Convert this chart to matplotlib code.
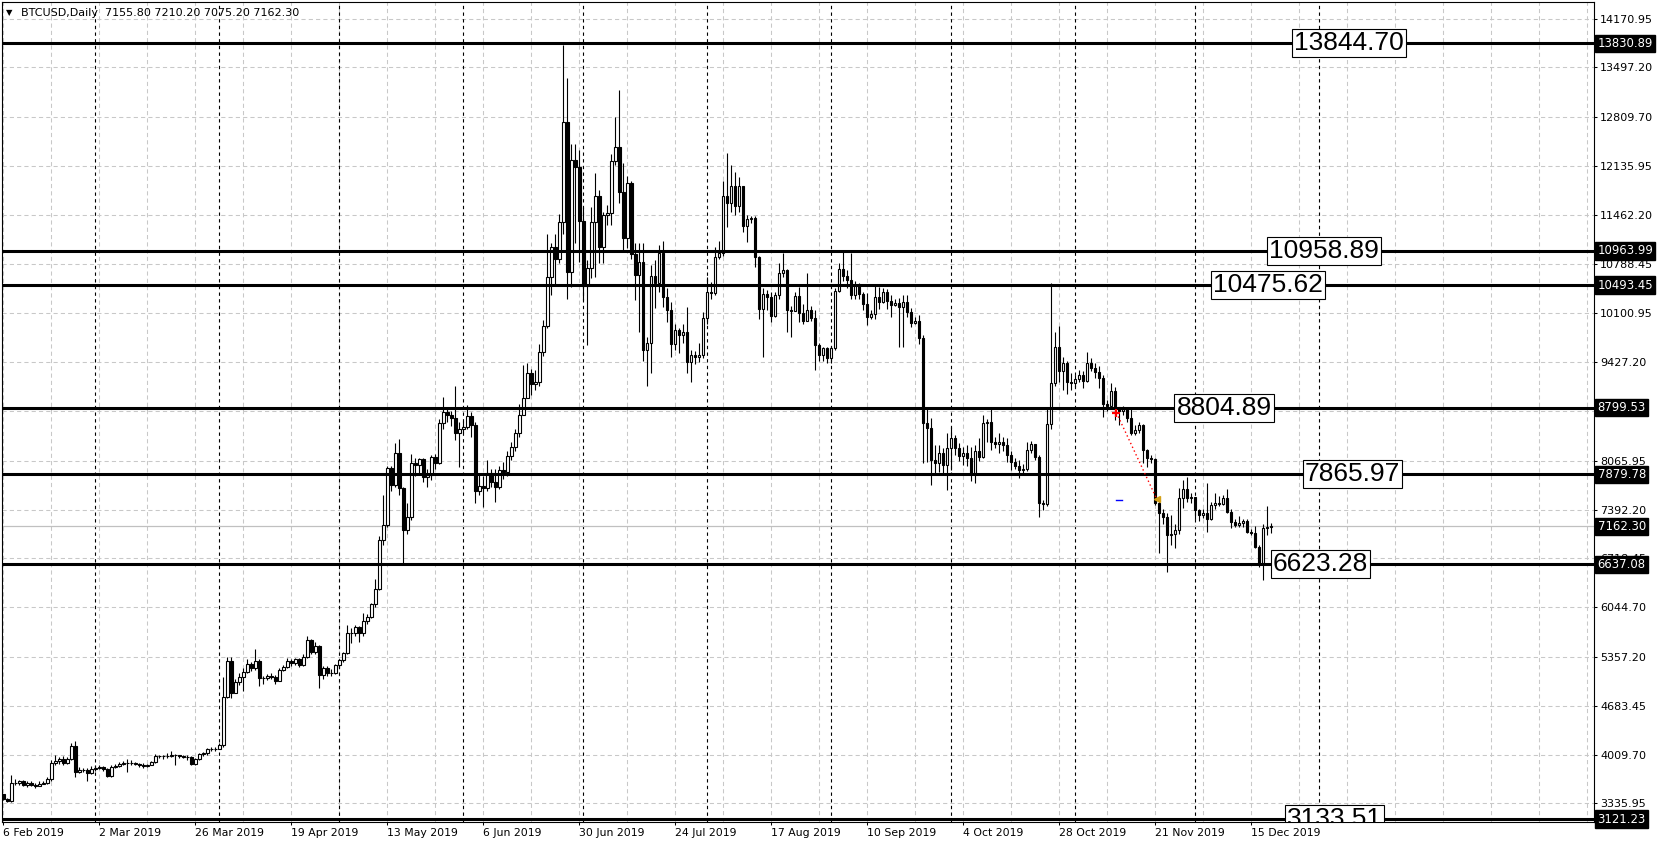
import numpy as np
import pandas as pd
import matplotlib
matplotlib.use("Agg")
import matplotlib.pyplot as plt
import matplotlib.transforms as mtransforms

# BTCUSD daily bars, 6 Feb 2019 .. 20 Dec 2019 (bar open = previous close)
first_open = 3468
feb_close = [3404, 3376, 3625, 3623, 3651, 3593, 3617, 3597, 3580, 3603, 3618, 3667, 3899, 3920, 3948, 3893,
             3956, 4135, 3771, 3800, 3800, 3755, 3810]
feb_high = [3470, 3410, 3735, 3680, 3665, 3660, 3640, 3650, 3620, 3640, 3650, 3700, 3930, 4000, 3980, 3990,
            3975, 4170, 4200, 3840, 3830, 3820, 3850]
feb_low = [3390, 3350, 3360, 3590, 3590, 3575, 3565, 3580, 3550, 3570, 3600, 3610, 3650, 3860, 3880, 3860,
           3885, 3930, 3700, 3760, 3770, 3650, 3745]

mar_close = [3828, 3840, 3810, 3715, 3835, 3853, 3876, 3890, 3899, 3899, 3881, 3867, 3858, 3867, 3908, 3996,
             3996, 3990, 3996, 4010, 4005, 3990, 3981, 3973, 3881, 3945, 4014, 4028, 4083, 4083, 4092]
mar_high = [3860, 3870, 3850, 3820, 3870, 3880, 3915, 3920, 3950, 3940, 3915, 3900, 3890, 3880, 3920, 4020,
            4010, 4010, 4030, 4060, 4020, 4010, 4000, 4000, 3985, 3960, 4030, 4050, 4100, 4110, 4110]
mar_low = [3790, 3810, 3785, 3700, 3705, 3820, 3840, 3860, 3775, 3870, 3860, 3840, 3830, 3840, 3860, 3900,
           3960, 3950, 3960, 3980, 3870, 3960, 3960, 3940, 3860, 3870, 3930, 3990, 4010, 4060, 4060]

apr_close = [4138, 4805, 5305, 4857, 5018, 5087, 5156, 5262, 5202, 5308, 5064, 5064, 5096, 5087, 5031, 5179,
             5225, 5308, 5271, 5326, 5248, 5363, 5593, 5432, 5510, 5110, 5202, 5133, 5140, 5243]
apr_high = [4170, 5087, 5353, 5363, 5060, 5140, 5200, 5330, 5290, 5473, 5330, 5100, 5130, 5140, 5110, 5200,
            5250, 5340, 5330, 5350, 5345, 5400, 5648, 5610, 5560, 5530, 5230, 5230, 5190, 5260]
apr_low = [4090, 4120, 4785, 4787, 4930, 4970, 4893, 5140, 5170, 5180, 4962, 4990, 5040, 5050, 4990, 5020,
           5160, 5200, 5230, 5250, 5220, 5230, 5340, 5400, 5400, 4926, 5060, 5100, 5090, 5120]

may_close = [5317, 5409, 5694, 5694, 5768, 5694, 5860, 5906, 6085, 6292, 6973, 7181, 7963, 7733, 8170, 7687,
             7111, 7286, 8032, 8009, 8087, 7848, 7871, 8115, 8041, 8584, 8745, 8699, 8653, 8455, 8501]
may_high = [5330, 5430, 5800, 5760, 5800, 5790, 5970, 5950, 6100, 6430, 7029, 7595, 8000, 8000, 8308, 8363,
            7700, 7489, 8161, 8100, 8110, 8100, 7950, 8150, 8160, 8650, 8952, 8800, 8750, 9100, 8600]
may_low = [5200, 5290, 5400, 5547, 5650, 5570, 5650, 5820, 5890, 6050, 6280, 6900, 7150, 7650, 7700, 7600,
           6651, 7050, 7250, 7850, 7900, 7780, 7700, 7800, 7950, 8020, 8500, 8600, 8550, 8350, 7986]

jun_close = [8538, 8685, 8561, 7655, 7724, 7687, 7894, 7779, 7710, 7940, 7910, 8133, 8262, 8455, 8700, 8929,
             9274, 9127, 9160, 9573, 9928, 10609, 11023, 10848, 11368, 12740, 10678, 12220, 12128, 11382]
jun_high = [8620, 8837, 8740, 8600, 7900, 7850, 8078, 7960, 7960, 7990, 8050, 8200, 8320, 8500, 8850, 9389,
            9421, 9330, 9320, 9679, 10010, 11198, 11069, 11198, 11470, 13807, 13347, 12441, 12441, 12357]
jun_low = [8450, 8500, 8400, 7489, 7600, 7434, 7650, 7700, 7503, 7680, 7820, 7850, 8080, 8200, 8400, 8700,
           8960, 8980, 9050, 9100, 9520, 9900, 10356, 10494, 10800, 11200, 10296, 10460, 11069, 10816]

jul_close = [10480, 10724, 11368, 11723, 11023, 11460, 11492, 12206, 12394, 11782, 11138, 11898, 10922, 10632,
             10816, 9597, 9688, 10618, 10517, 10931, 10333, 10149, 9679, 9872, 9800, 9850, 9435, 9527, 9500,
             9528, 10034]
jul_high = [11575, 10839, 11566, 12045, 11800, 11500, 11600, 12302, 12809, 13186, 12183, 12000, 11934, 11069,
            11069, 11069, 9780, 10765, 10839, 11046, 11106, 10448, 10264, 9950, 9900, 9950, 10194, 9600, 9580,
            9700, 10126]
jul_low = [10287, 9666, 10586, 10600, 10802, 10793, 11322, 11322, 12150, 11621, 10977, 11000, 10850, 10287,
           9850, 9449, 9099, 9274, 10176, 10400, 10186, 9988, 9504, 9600, 9550, 9700, 9274, 9150, 9400, 9430, 9480]

aug_close = [10402, 10380, 10885, 10940, 11723, 11630, 11860, 11585, 11860, 11308, 11400, 11414, 10885, 10158,
             10370, 10330, 10066, 10355, 10664, 10701, 10149, 10140, 10342, 10103, 10000, 10150, 10040, 9665,
             9527, 9620, 9481]
aug_high = [10609, 10540, 11023, 11100, 11934, 12312, 12151, 12059, 11990, 11850, 11460, 11440, 11440, 10900,
            10450, 10430, 10400, 10400, 10793, 10940, 10720, 10200, 10400, 10470, 10231, 10655, 10200, 10150,
            9700, 9640, 9640]
aug_low = [9950, 10300, 10350, 10850, 10900, 11300, 11500, 11460, 11500, 11230, 11090, 11350, 10747, 10020,
           9495, 10150, 9988, 10050, 10300, 10600, 9850, 9770, 10130, 9988, 9950, 9990, 9990, 9320, 9450, 9450,
           9420]

sep_close = [9620, 10416, 10710, 10618, 10560, 10356, 10500, 10370, 10232, 10057, 10094, 10324, 10264, 10402,
             10277, 10218, 10240, 10195, 10255, 10126, 9965, 10001, 9758, 8584, 8515, 8078, 8041, 8170, 8009, 8239]
sep_high = [9650, 10450, 10793, 10954, 10700, 10940, 10550, 10520, 10400, 10388, 10150, 10480, 10470, 10448,
            10434, 10356, 10300, 10310, 10356, 10356, 10172, 10050, 10080, 9804, 8777, 8653, 8285, 8285, 8239, 8446]
sep_low = [9420, 9600, 10400, 10550, 10450, 10300, 10300, 10300, 10150, 9942, 10030, 10030, 10158, 10250,
           10158, 10057, 10200, 9642, 9633, 10057, 9919, 9950, 9680, 8041, 8055, 7733, 7894, 7917, 7884, 7664]

oct_close = [8377, 8239, 8133, 8170, 8101, 7894, 8207, 8124, 8584, 8600, 8331, 8300, 8320, 8290, 8147, 8055,
             8000, 7940, 7960, 8216, 8300, 8124, 7489, 7470, 8575, 9136, 9633, 9300, 9422, 9159, 9136]
oct_high = [8538, 8423, 8317, 8262, 8285, 8262, 8285, 8377, 8699, 8650, 8777, 8400, 8455, 8400, 8380, 8200,
            8100, 8080, 8020, 8331, 8345, 8300, 8150, 7530, 8800, 10517, 9850, 9928, 9500, 9450, 9280]
oct_low = [7940, 8147, 8069, 8009, 7995, 7793, 7765, 8060, 8100, 8331, 8216, 8250, 8170, 8200, 8055, 7940,
           7950, 7825, 7900, 7920, 8180, 8080, 7296, 7388, 7440, 8500, 9100, 9150, 9045, 8990, 9050]

nov_close = [9190, 9250, 9170, 9412, 9350, 9290, 9205, 8851, 8830, 9035, 8805, 8760, 8775, 8653, 8455, 8490,
             8561, 8216, 8101, 8087, 7480, 7342, 7296, 7043, 7060, 7111, 7549, 7673, 7549, 7565]
nov_high = [9250, 9320, 9300, 9573, 9482, 9420, 9376, 9250, 8900, 9136, 9090, 8805, 8830, 8790, 8790, 8560,
            8607, 8580, 8225, 8150, 8101, 7563, 7400, 7342, 7320, 7200, 7687, 7800, 7848, 7620]
nov_low = [9080, 9150, 9067, 9150, 9300, 9205, 9067, 8676, 8760, 8800, 8630, 8560, 8700, 8600, 8420, 8420,
           8450, 8032, 7986, 8032, 7450, 6789, 7200, 6536, 6900, 6860, 7050, 7410, 7500, 7480]

dec_close = [7388, 7319, 7340, 7260, 7457, 7480, 7470, 7549, 7365, 7227, 7180, 7213, 7240, 7088, 7070, 6881,
             6651, 7135, 7155.8, 7162.3]
dec_high = [7526, 7400, 7400, 7765, 7500, 7627, 7580, 7600, 7673, 7400, 7260, 7305, 7270, 7270, 7130, 7160,
            6900, 7200, 7443, 7210.2]
dec_low = [7270, 7240, 7280, 7089, 7250, 7400, 7440, 7450, 7340, 7135, 7150, 7150, 7150, 7065, 7040, 6860,
           6600, 6421, 7040, 7075.2]

# horizontal levels and their text objects
level_lines = [13830.89, 10963.99, 10493.45, 8799.53, 7879.78, 6637.08, 3121.23]
level_texts = ["13844.70", "10958.89", "10475.62", "8804.89", "7865.97", "6623.28", "3133.51"]
last_price = 7162.30
header = "BTCUSD,Daily  7155.80 7210.20 7075.20 7162.30"

y_ticks = [14170.95, 13497.20, 12809.70, 12135.95, 11462.20, 10788.45, 10100.95, 9427.20, 8753.45,
           8065.95, 7392.20, 6718.45, 6044.70, 5357.20, 4683.45, 4009.70, 3335.95]
# 8753.45 sits fully under the 8799.53 price box, so its label is not seen
y_tick_labels = ["14170.95", "13497.20", "12809.70", "12135.95", "11462.20", "10788.45", "10100.95",
                 "9427.20", "", "8065.95", "7392.20", "6718.45", "6044.70", "5357.20", "4683.45",
                 "4009.70", "3335.95"]
x_tick_labels = ["6 Feb 2019", "2 Mar 2019", "26 Mar 2019", "19 Apr 2019", "13 May 2019", "6 Jun 2019",
                 "30 Jun 2019", "24 Jul 2019", "17 Aug 2019", "10 Sep 2019", "4 Oct 2019", "28 Oct 2019",
                 "21 Nov 2019", "15 Dec 2019"]

# closed trade drawn by the terminal
trade_open = ("2019-11-11 07:00", 8731.0)
trade_close = ("2019-11-21 10:00", 7535.0)
order_mark = ("2019-11-11 02:00", "2019-11-12 14:00", 7526.0)

START = pd.Timestamp("2019-02-06")
W, H = 1658, 846


def day_pos(stamp):
    return (pd.Timestamp(stamp) - START) / pd.Timedelta(days=1)


def main():
    closes = np.array(feb_close + mar_close + apr_close + may_close + jun_close + jul_close +
                      aug_close + sep_close + oct_close + nov_close + dec_close, dtype=float)
    highs = np.array(feb_high + mar_high + apr_high + may_high + jun_high + jul_high +
                     aug_high + sep_high + oct_high + nov_high + dec_high, dtype=float)
    lows = np.array(feb_low + mar_low + apr_low + may_low + jun_low + jul_low +
                    aug_low + sep_low + oct_low + nov_low + dec_low, dtype=float)
    opens = np.concatenate([[first_open], closes[:-1]])
    highs = np.maximum(highs, np.maximum(opens, closes))
    lows = np.minimum(lows, np.minimum(opens, closes))

    dates = pd.date_range(START, periods=len(closes), freq="D")
    x = np.array([day_pos(d) for d in dates])

    fig = plt.figure(figsize=(W / 100, H / 100), dpi=100)
    ax = fig.add_axes([2.3 / W, 1 - 821.7 / H, (1594 - 2.3) / W, (821.7 - 1.5) / H])
    ax.set_xlim(-0.25, 397.7)
    ax.set_ylim(3084, 14408)

    # grid
    for d in np.arange(0, 398, 12):
        ax.axvline(d, color="#c8c8c8", lw=0.75, ls=(0, (4, 3)), zorder=0)
    for v in y_ticks:
        ax.axhline(v, color="#c8c8c8", lw=0.75, ls=(0, (4, 3)), zorder=0)
    # month separators
    for m in pd.date_range("2019-03-01", "2020-01-01", freq="MS"):
        ax.axvline(day_pos(m), color="black", lw=0.8, ls=(0, (3, 3)), zorder=1)

    # bid line
    ax.axhline(last_price, color="#c0c0c0", lw=0.9, zorder=1)

    # candles
    up = closes >= opens
    ax.vlines(x, lows, highs, color="black", lw=0.8, zorder=3)
    ax.bar(x, np.abs(closes - opens), bottom=np.minimum(opens, closes), width=0.62,
           color=np.where(up, "white", "black"), edgecolor="black", linewidth=0.8, zorder=4)

    # levels
    label_x = [322.7, 316.4, 302.4, 293.3, 325.4, 317.4, 320.9]
    for v, txt, lx in zip(level_lines, level_texts, label_x):
        ax.axhline(v, color="black", lw=2.2, zorder=5)
        ax.text(lx, v, txt, fontsize=19, family="Liberation Sans", va="center", ha="left",
                bbox=dict(facecolor="white", edgecolor="black", linewidth=0.8, boxstyle="square,pad=0.08"),
                zorder=6, clip_on=True)

    # trade arrows
    x0, p0 = day_pos(trade_open[0]), trade_open[1]
    x1, p1 = day_pos(trade_close[0]), trade_close[1]
    ax.plot([x0, x1], [p0, p1], color="red", ls=(0, (1, 2)), lw=1, zorder=8)
    ax.plot(x0, p0, marker="+", color="red", ms=6, mew=1.6, zorder=9)
    ax.plot(x1, p1, marker="<", color="#d4a017", ms=4.5, zorder=9)
    ax.plot([day_pos(order_mark[0]), day_pos(order_mark[1])], [order_mark[2], order_mark[2]],
            color="blue", lw=1, zorder=8)

    # right price scale
    ax.yaxis.tick_right()
    ax.set_yticks(y_ticks)
    ax.set_yticklabels(y_tick_labels)
    ax.tick_params(axis="y", length=2.5, width=0.75, pad=2, labelsize=8, colors="black")
    trans = mtransforms.blended_transform_factory(ax.transAxes, ax.transData)
    for v in level_lines + [last_price]:
        ax.text(1.0022, v, f"{v:.2f}", transform=trans, color="white", fontsize=8.4, va="center", ha="left",
                bbox=dict(facecolor="black", edgecolor="black", boxstyle="square,pad=0.18"),
                clip_on=False, zorder=10)

    # time scale
    tick_pos = [day_pos(pd.to_datetime(s, format="%d %b %Y")) for s in x_tick_labels]
    ax.set_xticks(tick_pos)
    ax.set_xticklabels(x_tick_labels)
    for lbl in ax.get_xticklabels():
        lbl.set_horizontalalignment("left")
    ax.tick_params(axis="x", length=2.5, width=0.75, pad=2, labelsize=7.8, colors="black")

    for s in ax.spines.values():
        s.set_color("black")
        s.set_linewidth(0.8)

    fig.text(6.0 / W, 1 - 12.5 / H, "▼", fontsize=6, va="center", ha="left")
    fig.text(21.0 / W, 1 - 13.0 / H, header, fontsize=8, va="center", ha="left")

    fig.savefig("out.png", dpi=100, facecolor="white")
    plt.close(fig)


if __name__ == "__main__":
    main()
